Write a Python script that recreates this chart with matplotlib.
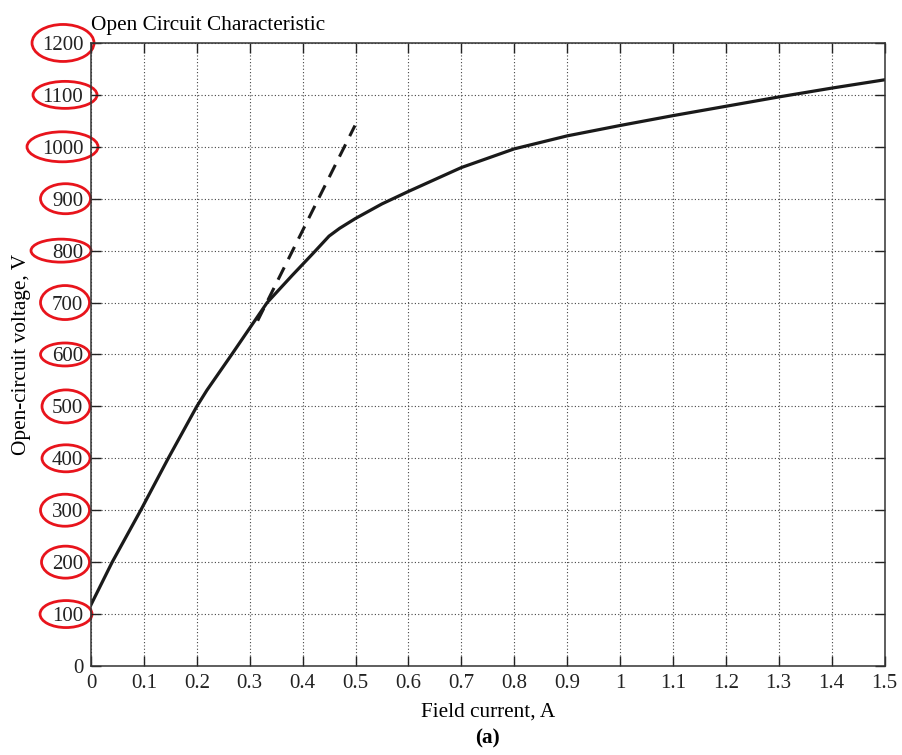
import matplotlib
matplotlib.use("Agg")
import matplotlib.pyplot as plt
import matplotlib.transforms as mtransforms
from matplotlib.patches import Ellipse

plt.rcParams['font.family'] = ['Liberation Serif', 'DejaVu Serif']

# open circuit curve
field_current = [0, 0.04, 0.094, 0.146, 0.2, 0.219, 0.266, 0.333, 0.38, 0.42, 0.45,
                 0.47, 0.5, 0.55, 0.6, 0.7, 0.8, 0.9, 1.0, 1.1, 1.2, 1.3, 1.4, 1.5]
oc_voltage = [118, 200, 300, 400, 500, 531, 600, 700, 752, 795, 828,
              843, 862, 890, 914, 960, 996, 1021, 1041, 1060, 1078, 1096, 1113, 1129]

# air-gap line (dashed)
airgap_current = [0.315, 0.499]
airgap_voltage = [665, 1041]

x_ticks = [0, 0.1, 0.2, 0.3, 0.4, 0.5, 0.6, 0.7, 0.8, 0.9, 1, 1.1, 1.2, 1.3, 1.4, 1.5]
x_ticklabels = ['0', '0.1', '0.2', '0.3', '0.4', '0.5', '0.6', '0.7', '0.8', '0.9',
                '1', '1.1', '1.2', '1.3', '1.4', '1.5']
y_ticks = list(range(0, 1300, 100))

# red circled tick labels (hand drawn size in pixels)
circled = [100, 200, 300, 400, 500, 600, 700, 800, 900, 1000, 1100, 1200]
circle_w = [52, 48, 49, 48, 48, 49, 49, 60, 50, 71, 64, 62]
circle_h = [27, 32, 32, 27, 33, 23, 34, 23, 30, 30, 27, 37]
circle_cx = [66, 65.5, 65, 66, 66, 65, 65, 61, 65.5, 62.5, 65, 63]

fig = plt.figure(figsize=(9.02, 7.55), dpi=100)
ax = fig.add_axes([0.1009, 0.1179, 0.8797, 0.8252])

ax.plot(field_current, oc_voltage, color='#1a1a1a', lw=2.3, solid_joinstyle='round')
ax.plot(airgap_current, airgap_voltage, color='#1a1a1a', lw=2.2, dashes=(4.5, 3))

ax.set_xlim(0, 1.5)
ax.set_ylim(0, 1200)
ax.set_xticks(x_ticks)
ax.set_xticklabels(x_ticklabels)
ax.set_yticks(y_ticks)

ax.grid(True, linestyle=(0, (1, 2)), color='#444444', lw=0.8)
ax.tick_params(direction='in', length=7.5, width=1, labelsize=15,
               top=True, right=True, colors='#222222')
ax.tick_params(axis='x', pad=6)
ax.tick_params(axis='y', pad=5.5)
for s in ax.spines.values():
    s.set_color('#333333')
    s.set_linewidth(1.1)

ax.set_xlabel('Field current, A', fontsize=15.3, labelpad=7)
ax.set_ylabel('Open-circuit voltage, V', fontsize=15.3, labelpad=8)
ax.set_title('Open Circuit Characteristic', loc='left', fontsize=15.3, pad=9)
fig.text(0.54, 0.022, '(a)', ha='center', va='center', fontsize=15.3, fontweight='bold')

# ellipses around the y tick labels
trans = mtransforms.blended_transform_factory(ax.transAxes, ax.transData)
ax_w_px = 0.8797 * 902
v_per_px = 1200 / (0.8252 * 755)
for v, w, h, cx in zip(circled, circle_w, circle_h, circle_cx):
    e = Ellipse(((cx - 91) / ax_w_px, v), w / ax_w_px, h * v_per_px,
                transform=trans, fill=False, edgecolor='#e8141c', lw=2.0, clip_on=False)
    ax.add_patch(e)

fig.savefig('out.png', dpi=100)
